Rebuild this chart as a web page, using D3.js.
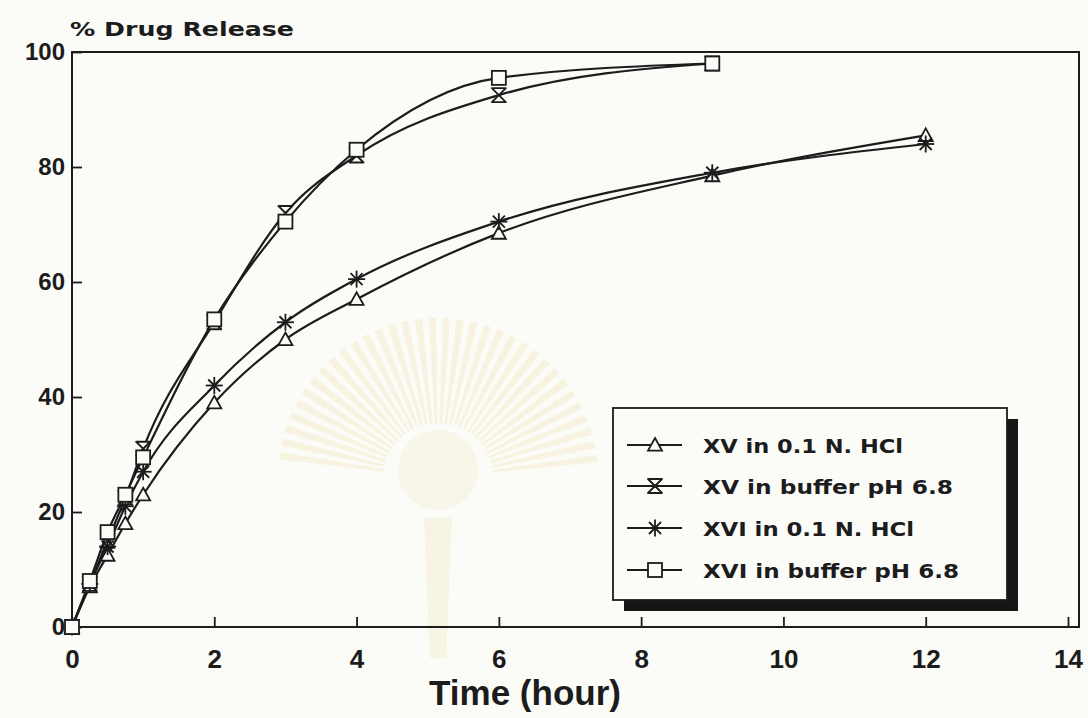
<!DOCTYPE html>
<html>
<head>
<meta charset="utf-8">
<script src="https://cdn.jsdelivr.net/npm/d3@7"></script>
<style>
  html, body { margin: 0; padding: 0; background: #fbfbf8; }
  svg { display: block; }
</style>
</head>
<body>
<svg id="chart" width="1088" height="718"></svg>
<script>
// Sampling times (hours)
const hoursHcl = [0, 0.25, 0.5, 0.75, 1, 2, 3, 4, 6, 9, 12];
const hoursBuffer = [0, 0.25, 0.5, 0.75, 1, 2, 3, 4, 6, 9];

// Cumulative % drug released
const xvHcl     = [0, 7, 12.5, 18, 23, 39, 50, 57, 68.5, 78.5, 85.5];
const xvBuffer  = [0, 7.5, 15, 22.5, 31, 53, 72, 82, 92.5, 98];
const xviHcl    = [0, 7.5, 14, 21, 27, 42, 53, 60.5, 70.5, 79, 84];
const xviBuffer = [0, 8, 16.5, 23, 29.5, 53.5, 70.5, 83, 95.5, 98];

const seriesNames = ["XV in 0.1 N. HCl", "XV in buffer pH 6.8", "XVI in 0.1 N. HCl", "XVI in buffer pH 6.8"];
const xTicks = [0, 2, 4, 6, 8, 10, 12, 14];
const yTicks = [0, 20, 40, 60, 80, 100];

const series = [
  { name: seriesNames[0], t: hoursHcl, v: xvHcl, marker: "triangle" },
  { name: seriesNames[1], t: hoursBuffer, v: xvBuffer, marker: "hourglass" },
  { name: seriesNames[2], t: hoursHcl, v: xviHcl, marker: "star" },
  { name: seriesNames[3], t: hoursBuffer, v: xviBuffer, marker: "square" }
];

const ink = "#1c1c1c";
const paper = "#fbfbf8";
const svg = d3.select("#chart");

const x = d3.scaleLinear().domain([0, 14]).range([72, 1068]);
const y = d3.scaleLinear().domain([0, 100]).range([627, 52]);

// faint emblem printed in the paper background
const emblem = svg.append("g").attr("transform", "translate(438,478)").attr("opacity", 0.24);
const rays = d3.range(-172, -6, 5);
emblem.selectAll("path.ray").data(rays).join("path")
  .attr("class", "ray")
  .attr("d", a => {
    const r0 = 55, r1 = 160;
    const a0 = (a - 1.3) * Math.PI / 180, a1 = (a + 1.3) * Math.PI / 180;
    return `M${r0 * Math.cos(a0)},${r0 * Math.sin(a0)} L${r1 * Math.cos(a0)},${r1 * Math.sin(a0)} L${r1 * Math.cos(a1)},${r1 * Math.sin(a1)} L${r0 * Math.cos(a1)},${r0 * Math.sin(a1)}Z`;
  })
  .attr("fill", "#efdc98");
emblem.append("circle").attr("cx", 0).attr("cy", -8).attr("r", 40).attr("fill", "#f1e4bc");
emblem.append("path").attr("d", "M-14,40 L14,40 L8,180 L-8,180Z").attr("fill", "#efdfa8");

// plot frame (runs slightly past the last tick on the right)
svg.append("rect")
  .attr("x", x(0)).attr("y", y(100))
  .attr("width", 1079 - x(0)).attr("height", y(0) - y(100))
  .attr("fill", "none").attr("stroke", ink).attr("stroke-width", 2);

// axes with inward ticks
const yAxis = svg.append("g").attr("transform", `translate(${x(0)},0)`)
  .call(d3.axisLeft(y).tickValues(yTicks).tickSize(-10).tickPadding(7).tickFormat(d3.format("d")));
yAxis.select(".domain").remove();
yAxis.selectAll("line").attr("stroke", ink).attr("stroke-width", 1.8);
yAxis.selectAll("text")
  .attr("fill", ink)
  .style("font-family", "'Liberation Sans', Arial, sans-serif")
  .style("font-weight", "bold")
  .style("font-size", "24px");

const xAxis = svg.append("g").attr("transform", `translate(0,${y(0)})`)
  .call(d3.axisBottom(x).tickValues(xTicks).tickSize(-10).tickPadding(23).tickFormat(d3.format("d")));
xAxis.select(".domain").remove();
xAxis.selectAll("line").attr("stroke", ink).attr("stroke-width", 1.8);
xAxis.selectAll("text")
  .attr("fill", ink)
  .style("font-family", "'Liberation Sans Narrow', 'Liberation Sans', sans-serif")
  .style("font-weight", "bold")
  .style("font-size", "26px");

// axis titles
svg.append("text")
  .attr("x", 70).attr("y", 36)
  .attr("textLength", 224).attr("lengthAdjust", "spacingAndGlyphs")
  .attr("fill", ink)
  .style("font-family", "'DejaVu Sans', sans-serif")
  .style("font-weight", "bold").style("font-size", "20px")
  .text("% Drug Release");

svg.append("text")
  .attr("x", 525).attr("y", 705)
  .attr("text-anchor", "middle")
  .attr("fill", ink)
  .style("font-family", "'Liberation Sans Narrow', 'Liberation Sans', sans-serif")
  .style("font-weight", "bold").style("font-size", "35px")
  .text("Time (hour)");

// marker shapes
function drawMarker(g, type) {
  const s = 7;
  if (type === "triangle") {
    g.append("path").attr("d", `M0,${-s} L${s},${s * 0.8} L${-s},${s * 0.8}Z`)
      .attr("fill", paper).attr("stroke", ink).attr("stroke-width", 1.8);
  } else if (type === "hourglass") {
    g.append("path").attr("d", `M${-s},${-s} L${s},${-s} L${-s},${s} L${s},${s}Z`)
      .attr("fill", paper).attr("stroke", ink).attr("stroke-width", 1.8).attr("stroke-linejoin", "round");
  } else if (type === "square") {
    g.append("rect").attr("x", -s).attr("y", -s).attr("width", 2 * s).attr("height", 2 * s)
      .attr("fill", paper).attr("stroke", ink).attr("stroke-width", 1.8);
  } else if (type === "star") {
    const r = 8.5;
    d3.range(0, 180, 45).forEach(a => {
      const rad = a * Math.PI / 180;
      g.append("line")
        .attr("x1", -r * Math.cos(rad)).attr("y1", -r * Math.sin(rad))
        .attr("x2", r * Math.cos(rad)).attr("y2", r * Math.sin(rad))
        .attr("stroke", ink).attr("stroke-width", 1.8);
    });
  }
}

// release curves
const line = d3.line()
  .x(d => x(d[0])).y(d => y(d[1]))
  .curve(d3.curveMonotoneX);

const plot = svg.append("g");
series.forEach(s => {
  const pts = s.t.map((t, i) => [t, s.v[i]]);
  plot.append("path").datum(pts)
    .attr("d", line)
    .attr("fill", "none").attr("stroke", ink).attr("stroke-width", 2.2);
});
series.forEach(s => {
  s.t.forEach((t, i) => {
    const g = plot.append("g").attr("transform", `translate(${x(t)},${y(s.v[i])})`);
    drawMarker(g, s.marker);
  });
});

// legend with drop shadow
const lg = { x: 613, y: 408, w: 394, h: 192, sh: 11 };
svg.append("rect")
  .attr("x", lg.x + lg.sh).attr("y", lg.y + lg.sh)
  .attr("width", lg.w).attr("height", lg.h)
  .attr("fill", "#161616");
svg.append("rect")
  .attr("x", lg.x).attr("y", lg.y).attr("width", lg.w).attr("height", lg.h)
  .attr("fill", paper).attr("stroke", ink).attr("stroke-width", 1.8);

const legendRowsY = [445, 486, 528, 570];
const legendWidths = [200, 250, 211, 256];
series.forEach((s, i) => {
  const row = svg.append("g").attr("transform", `translate(0,${legendRowsY[i]})`);
  row.append("line").attr("x1", 627).attr("x2", 682).attr("y1", 0).attr("y2", 0)
    .attr("stroke", ink).attr("stroke-width", 2);
  const m = row.append("g").attr("transform", "translate(655,0)");
  drawMarker(m, s.marker);
  row.append("text")
    .attr("x", 703).attr("y", 8)
    .attr("textLength", legendWidths[i]).attr("lengthAdjust", "spacingAndGlyphs")
    .attr("fill", ink)
    .style("font-family", "'DejaVu Sans', sans-serif")
    .style("font-weight", "bold").style("font-size", "20px")
    .text(s.name);
});
</script>
</body>
</html>
